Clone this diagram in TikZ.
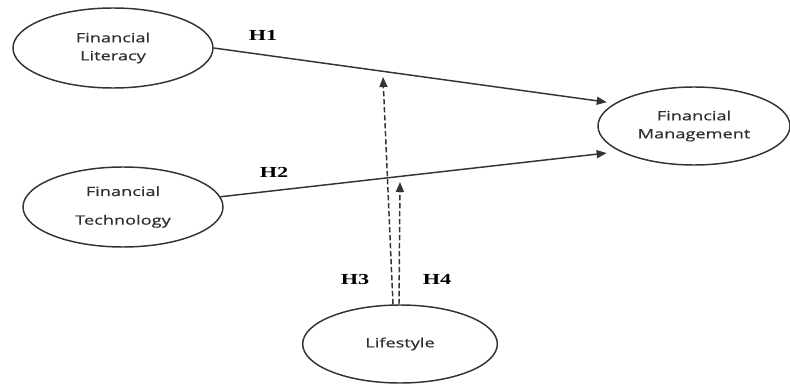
\documentclass[tikz,border=0pt]{standalone}
\usepackage{fontspec}
\usetikzlibrary{shapes.geometric,arrows.meta,calc}
\newfontfamily\ellfont[FakeStretch=1.42,FakeBold=0.6]{Open Sans}
\newfontfamily\hfont[FakeStretch=1.45]{Liberation Serif}
\definecolor{edge}{HTML}{333333}
\definecolor{txt}{HTML}{2E2E2E}
\begin{document}
\begin{tikzpicture}[x=0.75pt,y=-0.75pt,
  var/.style={ellipse, draw=edge, line width=1.1pt, inner sep=0pt, text=txt, align=center,
    font=\ellfont\fontsize{9.6}{13.5}\selectfont},
  hyp/.style={inner sep=0pt, font=\hfont\bfseries\fontsize{11.5}{13}\selectfont},
  link/.style={draw=edge, line width=1.1pt, -{Triangle[length=7.5pt,width=6pt]}},
  moder/.style={link, dash pattern=on 4pt off 2pt}]
\useasboundingbox (0,0) rectangle (790,385);
\node[var, minimum width=150pt, minimum height=60pt] (fl) at (113,48) {Financial\\Literacy};
\node[var, minimum width=150pt, minimum height=60pt] (ft) at (123,207) {Financial\\[8pt]Technology};
\node[var, minimum width=144pt, minimum height=58.5pt] (fm) at (694,126) {Financial\\Management};
\node[var, minimum width=146pt, minimum height=58.5pt] (ls) at (400,344) {Lifestyle};
\draw[link, shorten >=6pt] (fl.east) -- (fm.164);
\draw[link, shorten >=10pt] (ft.6) -- (fm.199);
\coordinate (m1) at (383,77);
\coordinate (m2) at (400,182);
\draw[moder] ($(ls.north)+(-7,0)$) -- (m1);
\draw[moder] ($(ls.north)+(-1,0)$) -- (m2);
\node[hyp] (h1) at (263,35) {H1};
\node[hyp] (h2) at (274,172) {H2};
\node[hyp] (h3) at (355,279) {H3};
\node[hyp] (h4) at (437,279) {H4};
\end{tikzpicture}
\end{document}
